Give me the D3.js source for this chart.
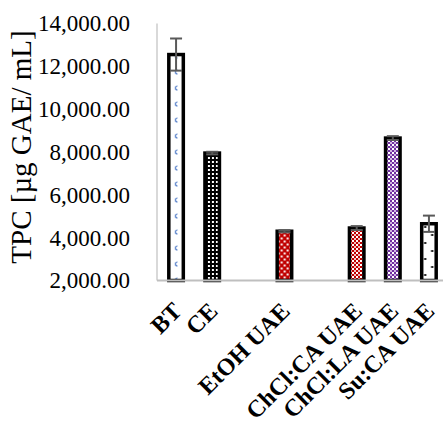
<!DOCTYPE html>
<html>
<head>
<meta charset="utf-8">
<script src="https://cdn.jsdelivr.net/npm/d3@7/dist/d3.min.js"></script>
<style>
  html, body { margin: 0; padding: 0; background: #fff; }
  svg { display: block; }
</style>
</head>
<body>
<svg id="chart" width="443" height="423"></svg>
<script>
// ---- data ----
const categories = ["BT", "CE", "", "EtOH UAE", "", "ChCl:CA UAE", "ChCl:LA UAE", "Su:CA UAE"];
const values     = [12550, 7950, null, 4300, null, 4450, 8650, 4650];
const errors     = [750, 60, null, 50, null, 90, 90, 380];
const patternIds = ["pBT", "pCE", null, "pEtOH", null, "pChCA", "pChLA", "pSuCA"];
const yTicks     = [2000, 4000, 6000, 8000, 10000, 12000, 14000];
const yLabel     = "TPC [µg GAE/ mL]";

const svg = d3.select("#chart");
const defs = svg.append("defs");

// ---- scales ----
const x = d3.scaleBand().domain(d3.range(categories.length)).range([158, 447]).padding(0);
const y = d3.scaleLinear().domain([2000, 14000]).range([280.5, 23.5]);
const barW = 14.5;
const barLeft = i => x(i) + x.bandwidth() / 2 - barW / 2;

// ---- patterns ----
function pat(id, w, h, bg, ox) {
  const p = defs.append("pattern").attr("id", id).attr("patternUnits", "userSpaceOnUse")
    .attr("x", ox || 0).attr("width", w).attr("height", h);
  p.append("rect").attr("width", w).attr("height", h).attr("fill", bg);
  return p;
}
// BT: white with small blue marks in the centre column
{
  const p = pat("pBT", 40, 16, "#fff", barLeft(0));
  p.append("path").attr("d", "M8.6,6 Q6.6,6 6.6,8 Q6.6,10 8.6,10").attr("fill", "none")
    .attr("stroke", "#4472c4").attr("stroke-width", 1.1);
}
// CE: black with white small squares (two columns)
{
  const p = pat("pCE", 4, 4, "#000", barLeft(1) + 2);
  p.append("rect").attr("x", 1).attr("y", 1).attr("width", 2).attr("height", 2).attr("fill", "#fff");
}
// EtOH: red with white dots staggered
{
  const p = pat("pEtOH", 6, 6, "#c00000", barLeft(3));
  p.append("rect").attr("x", 0.5).attr("y", 0.5).attr("width", 2).attr("height", 2).attr("fill", "#fff");
  p.append("rect").attr("x", 3.5).attr("y", 3.5).attr("width", 2).attr("height", 2).attr("fill", "#fff");
}
// ChCl:CA: red with white checker
{
  const p = pat("pChCA", 4, 4, "#c00000");
  p.append("rect").attr("x", 0).attr("y", 0).attr("width", 2).attr("height", 2).attr("fill", "#fff");
  p.append("rect").attr("x", 2).attr("y", 2).attr("width", 2).attr("height", 2).attr("fill", "#f4c0c0");
}
// ChCl:LA: purple with white checker
{
  const p = pat("pChLA", 4, 4, "#7030a0");
  p.append("rect").attr("x", 0).attr("y", 0).attr("width", 2).attr("height", 2).attr("fill", "#fff");
  p.append("rect").attr("x", 2).attr("y", 2).attr("width", 2).attr("height", 2).attr("fill", "#d0b8e0");
}
// Su:CA: white with sparse black dots near the sides
{
  const p = pat("pSuCA", 40, 16, "#fff", barLeft(7));
  p.append("rect").attr("x", 2.5).attr("y", 2).attr("width", 2).attr("height", 2).attr("fill", "#000");
  p.append("rect").attr("x", 9.5).attr("y", 10).attr("width", 2).attr("height", 2).attr("fill", "#000");
}

// ---- y axis ----
const yAxis = d3.axisLeft(y).tickValues(yTicks).tickSize(0).tickPadding(27)
  .tickFormat(d3.format(",.2f"));
const gy = svg.append("g").attr("transform", "translate(157,0)").call(yAxis);
gy.select(".domain").remove();
gy.selectAll("text").attr("font-family", "'Liberation Serif', serif").attr("font-size", 23)
  .attr("fill", "#000");

svg.append("line").attr("x1", 157).attr("x2", 157).attr("y1", y(14000)).attr("y2", y(2000))
  .attr("stroke", "#d9d9d9").attr("stroke-width", 2);

svg.append("text")
  .attr("transform", `translate(31,${(y(14000) + y(2000)) / 2 - 5}) rotate(-90)`)
  .attr("text-anchor", "middle")
  .attr("font-family", "'Liberation Serif', serif").attr("font-size", 29)
  .attr("fill", "#000").text(yLabel);

// ---- bars ----
const idx = d3.range(categories.length).filter(i => values[i] != null);
svg.append("g").selectAll("rect").data(idx).join("rect")
  .attr("x", i => barLeft(i))
  .attr("width", barW)
  .attr("y", i => y(values[i]))
  .attr("height", i => y(2000) - y(values[i]))
  .attr("fill", i => `url(#${patternIds[i]})`)
  .attr("stroke", "#000").attr("stroke-width", 3.5);

// baseline
svg.append("line").attr("x1", 157).attr("x2", 443).attr("y1", y(2000)).attr("y2", y(2000))
  .attr("stroke", "#bfbfbf").attr("stroke-width", 2);

// ---- error bars ----
const eg = svg.append("g").attr("stroke", "#595959").attr("stroke-width", 2);
idx.forEach(i => {
  const cx = x(i) + x.bandwidth() / 2;
  const hi = y(values[i] + errors[i]), lo = y(values[i] - errors[i]);
  eg.append("line").attr("x1", cx).attr("x2", cx).attr("y1", hi).attr("y2", lo);
  eg.append("line").attr("x1", cx - 6).attr("x2", cx + 6).attr("y1", hi).attr("y2", hi);
  eg.append("line").attr("x1", cx - 6).attr("x2", cx + 6).attr("y1", lo).attr("y2", lo);
});

// ---- x labels ----
svg.append("g").selectAll("text").data(idx).join("text")
  .attr("transform", i => `translate(${x(i) + x.bandwidth() / 2 + 7},${y(2000) + 32}) rotate(-45)`)
  .attr("text-anchor", "end")
  .attr("font-family", "'Liberation Serif', serif").attr("font-size", 24)
  .attr("font-weight", "bold").attr("fill", "#000")
  .text(i => categories[i]);
</script>
</body>
</html>
